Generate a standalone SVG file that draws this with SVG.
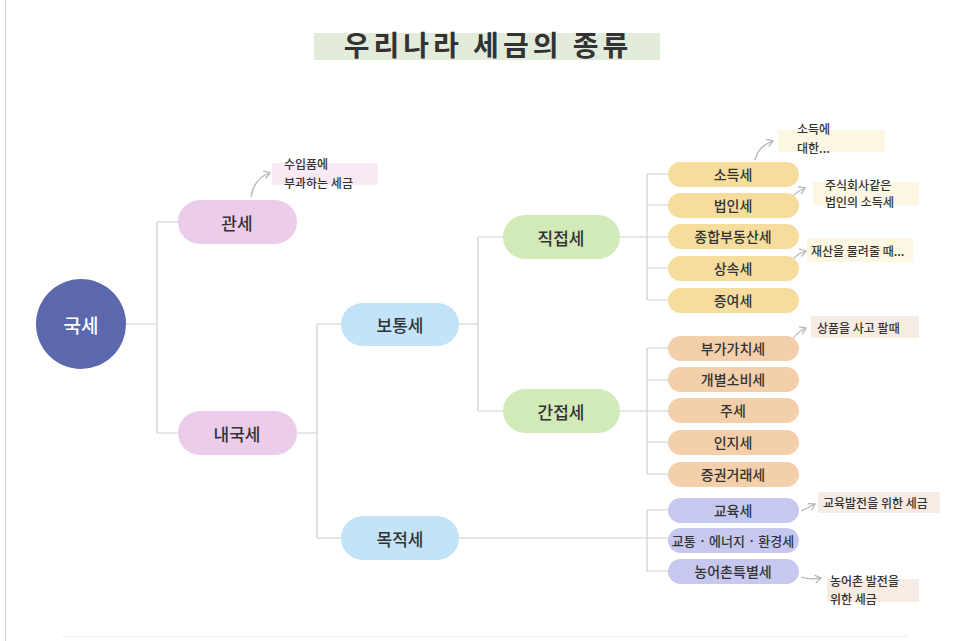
<svg xmlns="http://www.w3.org/2000/svg" width="966" height="641" viewBox="0 0 966 641">
<defs>
<style>
text{font-family:"Noto Sans CJK KR","Noto Sans",sans-serif;fill:#333;text-anchor:middle;dominant-baseline:central;font-weight:500}
.title{font-size:28px;font-weight:bold;letter-spacing:4px}
.l1{font-size:17px}
.leaf{font-size:14px}
.note{font-size:12px;text-anchor:start}
.con{fill:none;stroke:#cfcfcf;stroke-width:1.2}
.arr{fill:none;stroke:#b8b8b8;stroke-width:1.3;marker-end:url(#ah)}
.pink{fill:#ebcdeb}.blue{fill:#c2e3f8}.green{fill:#d2e9b8}.yel{fill:#f6dd9e}.peach{fill:#f4cfab}.lav{fill:#c7c8ef}
</style>
<marker id="ah" markerWidth="10" markerHeight="10" refX="7" refY="5" orient="auto" markerUnits="userSpaceOnUse">
<path d="M1,1 L7,5 L1,9" fill="none" stroke="#b8b8b8" stroke-width="1.3"/>
</marker>
</defs>
<rect width="966" height="641" fill="#fff"/>
<line x1="5.5" y1="0" x2="5.5" y2="641" stroke="#d6d6d6" stroke-width="1"/>
<line x1="62" y1="636.5" x2="908" y2="636.5" stroke="#eeeeee" stroke-width="1"/>
<g id="title">
<rect x="314" y="33" width="346" height="27" fill="#e3ecdb"/>
<text class="title" x="488" y="44">우리나라 세금의 종류</text>
</g>
<g id="connectors">
<path class="con" d="M126,324 H157 M157,222 V433 M157,222 H178 M157,433 H178"/>
<path class="con" d="M297,433 H317 M317,324 V538 M317,324 H341 M317,538 H341"/>
<path class="con" d="M459,324 H478 M478,237 V411 M478,237 H503 M478,411 H503"/>
<path class="con" d="M620,237 H668 M647,174 V300 M647,174 H668 M647,205 H668 M647,268 H668 M647,300 H668"/>
<path class="con" d="M620,411 H668 M647,348 V474 M647,348 H668 M647,380 H668 M647,442 H668 M647,474 H668"/>
<path class="con" d="M459,538 H668 M647,510 V571 M647,510 H668 M647,571 H668"/>
<path class="arr" d="M251,197 Q254,178 270,173"/>
<path class="arr" d="M755,160 Q758,146 773,141"/>
<path class="arr" d="M787,206 Q791,194 805,188"/>
<path class="arr" d="M787,268 Q793,255 806,251"/>
<path class="arr" d="M787,347 Q795,333 806,328"/>
<path class="arr" d="M801,511 Q808,508 815,504"/>
<path class="arr" d="M801,577 Q810,580 821,578"/>
</g>
<g id="n-gukse"><circle cx="81" cy="324" r="45" fill="#5b68ae"/><text class="l1" x="81" y="324" style="fill:#fff;font-size:19px">국세</text></g>
<g id="n-gwanse"><rect class="pink" x="178" y="200" width="119" height="44" rx="22"/><text class="l1" x="237" y="222">관세</text></g>
<g id="n-naeguk"><rect class="pink" x="178" y="411" width="119" height="44" rx="22"/><text class="l1" x="237" y="433">내국세</text></g>
<g id="n-botong"><rect class="blue" x="341" y="303" width="118" height="43" rx="21.5"/><text class="l1" x="400" y="324">보통세</text></g>
<g id="n-mokjeok"><rect class="blue" x="341" y="516" width="118" height="44" rx="22"/><text class="l1" x="400" y="538">목적세</text></g>
<g id="n-jikjeop"><rect class="green" x="503" y="215" width="117" height="44" rx="22"/><text class="l1" x="561" y="237">직접세</text></g>
<g id="n-ganjeop"><rect class="green" x="503" y="389" width="117" height="44" rx="22"/><text class="l1" x="561" y="411">간접세</text></g>
<g id="n-sodeuk"><rect class="yel" x="668" y="162" width="131" height="25" rx="12.5"/><text class="leaf" x="733" y="174">소득세</text></g>
<g id="n-beopin"><rect class="yel" x="668" y="193" width="131" height="25" rx="12.5"/><text class="leaf" x="733" y="205">법인세</text></g>
<g id="n-jonghap"><rect class="yel" x="668" y="224" width="131" height="25" rx="12.5"/><text class="leaf" x="733" y="236">종합부동산세</text></g>
<g id="n-sangsok"><rect class="yel" x="668" y="256" width="131" height="25" rx="12.5"/><text class="leaf" x="733" y="268">상속세</text></g>
<g id="n-jeungyeo"><rect class="yel" x="668" y="288" width="131" height="25" rx="12.5"/><text class="leaf" x="733" y="300">증여세</text></g>
<g id="n-bugagachi"><rect class="peach" x="668" y="336" width="131" height="25" rx="12.5"/><text class="leaf" x="733" y="348">부가가치세</text></g>
<g id="n-gaebyeol"><rect class="peach" x="668" y="367" width="131" height="25" rx="12.5"/><text class="leaf" x="733" y="379">개별소비세</text></g>
<g id="n-juse"><rect class="peach" x="668" y="398" width="131" height="25" rx="12.5"/><text class="leaf" x="733" y="410">주세</text></g>
<g id="n-inji"><rect class="peach" x="668" y="430" width="131" height="25" rx="12.5"/><text class="leaf" x="733" y="442">인지세</text></g>
<g id="n-jeunggwon"><rect class="peach" x="668" y="462" width="131" height="25" rx="12.5"/><text class="leaf" x="733" y="474">증권거래세</text></g>
<g id="n-gyoyuk"><rect class="lav" x="668" y="498" width="131" height="25" rx="12.5"/><text class="leaf" x="733" y="510">교육세</text></g>
<g id="n-gyotong"><rect class="lav" x="668" y="528" width="131" height="25" rx="12.5"/><text class="leaf" x="733" y="540" style="font-size:13px">교통 · 에너지 · 환경세</text></g>
<g id="n-nongeo"><rect class="lav" x="668" y="559" width="131" height="25" rx="12.5"/><text class="leaf" x="733" y="571">농어촌특별세</text></g>
<g id="note-gwanse"><rect x="272" y="163" width="106" height="22" fill="#f7eaf5"/><text class="note" x="284" y="163">수입품에</text><text class="note" x="284" y="182">부과하는 세금</text></g>
<g id="note-sodeuk"><rect x="778" y="130" width="107" height="22" fill="#fbf7e2"/><text class="note" x="797" y="128">소득에</text><text class="note" x="797" y="147">대한...</text></g>
<g id="note-beopin"><rect x="813" y="182" width="106" height="23" fill="#fbf7e2"/><text class="note" x="825" y="184">주식회사같은</text><text class="note" x="825" y="201">법인의 소득세</text></g>
<g id="note-sangsok"><rect x="807" y="238" width="106" height="24" fill="#fbf7e2"/><text class="note" x="811" y="250">재산을 물려줄 때...</text></g>
<g id="note-buga"><rect x="811" y="316" width="108" height="22" fill="#f7ece3"/><text class="note" x="817" y="327">상품을 사고 팔때</text></g>
<g id="note-gyoyuk"><rect x="818" y="492" width="122" height="21" fill="#f7ece3"/><text class="note" x="823" y="502">교육발전을 위한 세금</text></g>
<g id="note-nongeo"><rect x="827" y="579" width="92" height="23" fill="#f7ece3"/><text class="note" x="830" y="580">농어촌 발전을</text><text class="note" x="830" y="598">위한 세금</text></g>
</svg>
